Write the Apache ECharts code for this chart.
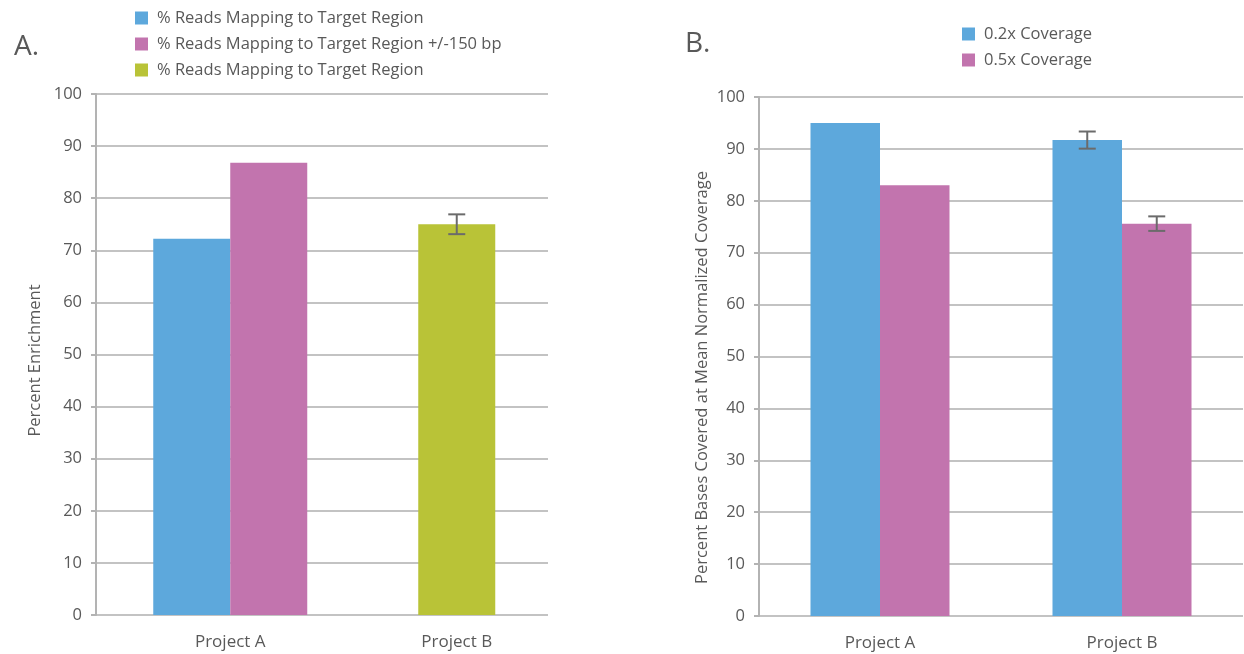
<!DOCTYPE html>
<html>
<head>
<meta charset="utf-8">
<script src="https://cdn.jsdelivr.net/npm/echarts@6/dist/echarts.min.js"></script>
<style>
html,body{margin:0;padding:0;background:#fff;}
#c{width:1244px;height:654px;}
</style>
</head>
<body>
<div id="c"></div>
<script>
// ---------- Data ----------
const categories = ['Project A', 'Project B'];
const yTicks = { min: 0, max: 100, interval: 10 };

// Chart A
const seriesANames = ['% Reads Mapping to Target Region', '% Reads Mapping to Target Region +/-150 bp', '% Reads Mapping to Target Region '];
const readsTarget = [72.2, null];
const readsTarget150 = [86.8, null];
const readsTargetB = [null, 75.0];
const readsTargetBErr = [null, 1.9];

// Chart B
const seriesBNames = ['0.2x Coverage', '0.5x Coverage'];
const cov02 = [95.0, 91.7];
const cov05 = [83.0, 75.6];
const cov02Err = [null, 1.65];
const cov05Err = [null, 1.4];

// ---------- Style ----------
const FONT = 'Open Sans';
const TXT = '#595959';
const GRID = '#c3c3c3';
const AXIS = '#b3b3b3';
const BLUE = '#5da8dc', PINK = '#c274ae', GREEN = '#b9c337';
const ERR = '#6b6b6b';
const BW_A = 77, BW_B = 69.5;

function errData(vals, errs) {
  const out = [];
  vals.forEach((v, i) => { if (v != null && errs[i] != null) out.push([i, v, errs[i]]); });
  return out;
}
function errRender(offset) {
  return function (params, api) {
    const c = api.value(0), v = api.value(1), e = api.value(2);
    const t = api.coord([c, v + e]);
    const b = api.coord([c, v - e]);
    const x = t[0] + offset;
    const cap = 8.5;
    const st = { stroke: ERR, lineWidth: 2 };
    return {
      type: 'group',
      children: [
        { type: 'line', shape: { x1: x, y1: t[1], x2: x, y2: b[1] }, style: st },
        { type: 'line', shape: { x1: x - cap, y1: t[1], x2: x + cap, y2: t[1] }, style: st },
        { type: 'line', shape: { x1: x - cap, y1: b[1], x2: x + cap, y2: b[1] }, style: st }
      ]
    };
  };
}

const yAxisVisible = (name, gap, grid, shiftPad) => ({
  type: 'value', gridIndex: grid, min: yTicks.min, max: yTicks.max, interval: yTicks.interval,
  name: name, nameLocation: 'middle', nameRotate: 90, nameGap: gap,
  nameTextStyle: { color: TXT, fontFamily: FONT, fontSize: 16.5, padding: [0, shiftPad, 0, 0] },
  axisLine: { show: true, lineStyle: { color: AXIS, width: 2 } },
  axisTick: { show: true, inside: false, length: 5, lineStyle: { color: AXIS, width: 2 } },
  axisLabel: { color: TXT, fontFamily: FONT, fontSize: 16.5, margin: 14 },
  splitLine: { show: true, lineStyle: { color: GRID, width: 2 } }
});
const yAxisHidden = (grid) => ({ type: 'value', gridIndex: grid, min: yTicks.min, max: yTicks.max, interval: yTicks.interval, show: false, splitLine: { show: false } });
const xCat = (grid, show) => ({
  type: 'category', gridIndex: grid, data: categories, show: show,
  axisLine: { show: false }, axisTick: { show: false },
  axisLabel: { color: TXT, fontFamily: FONT, fontSize: 17, margin: 19 }
});

const option = {
  animation: false,
  backgroundColor: '#fff',
  title: [
    { text: 'A.', left: 14, top: 33, padding: 0, textStyle: { color: TXT, fontFamily: FONT, fontSize: 28, fontWeight: 'normal' } },
    { text: 'B.', left: 685, top: 30, padding: 0, textStyle: { color: TXT, fontFamily: FONT, fontSize: 28, fontWeight: 'normal' } }
  ],
  legend: [
    {
      data: seriesANames, orient: 'vertical', left: 135, top: 9, padding: 0,
      icon: 'rect', itemWidth: 13, itemHeight: 13, itemGap: 8,
      textStyle: { color: TXT, fontFamily: FONT, fontSize: 16.5, lineHeight: 18, padding: [0, 0, 0, 4] }
    },
    {
      data: seriesBNames, orient: 'vertical', left: 962, top: 25, padding: 0,
      icon: 'rect', itemWidth: 13, itemHeight: 13, itemGap: 8,
      textStyle: { color: TXT, fontFamily: FONT, fontSize: 16.5, lineHeight: 18, padding: [0, 0, 0, 4] }
    }
  ],
  grid: [
    { left: 96, right: 696, top: 94, bottom: 39 },   // A axes
    { left: 117, right: 674, top: 94, bottom: 39 },  // A bars
    { left: 759, right: 1, top: 97, bottom: 38 }     // B
  ],
  xAxis: [
    xCat(0, false),
    xCat(1, true),
    xCat(1, false),
    xCat(2, true)
  ],
  yAxis: [
    yAxisVisible('Percent Enrichment', 52, 0, 12),
    yAxisHidden(1),
    yAxisVisible('Percent Bases Covered at Mean Normalized Coverage', 48, 2, 42)
  ],
  series: [
    { name: seriesANames[0], type: 'bar', xAxisIndex: 1, yAxisIndex: 1, data: readsTarget, barWidth: BW_A, barGap: '0%', itemStyle: { color: BLUE } },
    { name: seriesANames[1], type: 'bar', xAxisIndex: 1, yAxisIndex: 1, data: readsTarget150, barWidth: BW_A, barGap: '0%', itemStyle: { color: PINK } },
    { name: seriesANames[2], type: 'bar', xAxisIndex: 2, yAxisIndex: 1, data: readsTargetB, barWidth: BW_A, itemStyle: { color: GREEN } },
    { type: 'custom', xAxisIndex: 2, yAxisIndex: 1, data: errData(readsTargetB, readsTargetBErr), renderItem: errRender(0), z: 5 },
    { name: seriesBNames[0], type: 'bar', xAxisIndex: 3, yAxisIndex: 2, data: cov02, barWidth: BW_B, barGap: '0%', itemStyle: { color: BLUE } },
    { name: seriesBNames[1], type: 'bar', xAxisIndex: 3, yAxisIndex: 2, data: cov05, barWidth: BW_B, barGap: '0%', itemStyle: { color: PINK } },
    { type: 'custom', xAxisIndex: 3, yAxisIndex: 2, data: errData(cov02, cov02Err), renderItem: errRender(-BW_B / 2), z: 5 },
    { type: 'custom', xAxisIndex: 3, yAxisIndex: 2, data: errData(cov05, cov05Err), renderItem: errRender(BW_B / 2), z: 5 }
  ]
};
const chart = echarts.init(document.getElementById('c'), null, { renderer: 'canvas' });
chart.setOption(option);
</script>
</body>
</html>
